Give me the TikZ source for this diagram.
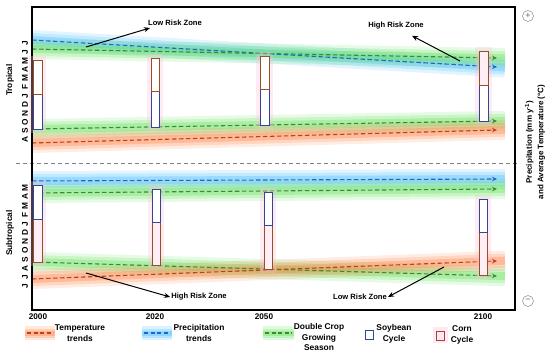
\documentclass[tikz,border=0pt]{standalone}
\usepackage{fontspec}
\setmainfont{Liberation Sans}
\usetikzlibrary{arrows.meta,calc}
\definecolor{tblue}{RGB}{40,100,200}
\definecolor{tgreen}{RGB}{65,135,55}
\definecolor{tred}{RGB}{190,65,30}
\definecolor{gblue}{RGB}{60,185,255}
\definecolor{ggreen}{RGB}{90,225,80}
\definecolor{gred}{RGB}{255,125,60}
\definecolor{cornc}{RGB}{150,80,40}
\definecolor{soyc}{RGB}{50,70,150}
\definecolor{boxfill}{RGB}{255,238,246}
\definecolor{halo}{RGB}{255,190,220}
\newcommand\myglow[3]{\foreach \w/\o in {20/0.15,14/0.2,8/0.3}{\draw[#1,opacity=\o,line width=\w pt,shorten >=-8pt] (#2) -- (#3);}}
\newcommand\myglowlg[3]{\foreach \w/\o in {14/0.18,9/0.24,5/0.32}{\draw[#1,opacity=\o,line width=\w pt,shorten >=-2pt,shorten <=-2pt] (#2) -- (#3);}}
\begin{document}
\begin{tikzpicture}[x=1pt,y=-1pt,
  trend/.style={line width=1.1pt,dash pattern=on 4.5pt off 2.5pt,-{Stealth[length=5pt,width=4.5pt]}},
  lgtrend/.style={line width=1.1pt,dash pattern=on 4pt off 2.5pt},
  riskarrow/.style={line width=1pt,-{Stealth[length=6pt,width=5pt]}},
  lbl/.style={font=\bfseries\fontsize{7.6}{9}\selectfont,inner sep=1pt},
  yr/.style={font=\bfseries\fontsize{8.2}{9}\selectfont,inner sep=1pt},
  leg/.style={font=\bfseries\fontsize{8.4}{10.5}\selectfont,align=center,inner sep=0pt},
  mon/.style={font=\bfseries\fontsize{8.3}{9}\selectfont,rotate=90,inner sep=0pt},
  side/.style={font=\bfseries\fontsize{8.3}{9}\selectfont,rotate=90,inner sep=0pt},
  cornbox/.style={draw=cornc,line width=0.9pt,fill=boxfill},
  soybox/.style={draw=soyc,line width=0.9pt,fill=white},
  sign/.style={circle,draw=gray!80,line width=0.6pt,minimum size=11pt,inner sep=0pt,text=gray!80!black,font=\fontsize{9}{9}\selectfont}]
\useasboundingbox (0,0) rectangle (550,356);
% trend coordinates
\coordinate (tb1) at (32,40);  \coordinate (tb2) at (497,67);
\coordinate (tg1) at (32,49);  \coordinate (tg2) at (497,58);
\coordinate (tg3) at (32,129); \coordinate (tg4) at (497,121);
\coordinate (tr1) at (32,143); \coordinate (tr2) at (497,130);
\coordinate (sb1) at (32,181); \coordinate (sb2) at (497,179);
\coordinate (sg1) at (32,193); \coordinate (sg2) at (497,189);
\coordinate (sg3) at (32,262); \coordinate (sg4) at (497,276);
\coordinate (sr1) at (32,279); \coordinate (sr2) at (497,261);
% glows
\myglow{gblue}{tb1}{tb2}
\myglow{ggreen}{tg1}{tg2}
\myglow{ggreen}{tg3}{tg4}
\myglow{gred}{tr1}{tr2}
\myglow{gblue}{sb1}{sb2}
\myglow{ggreen}{sg1}{sg2}
\myglow{ggreen}{sg3}{sg4}
\myglow{gred}{sr1}{sr2}
% trend lines
\draw[trend,tblue] (tb1) -- (tb2);
\draw[trend,tgreen] (tg1) -- (tg2);
\draw[trend,tgreen] (tg3) -- (tg4);
\draw[trend,tred] (tr1) -- (tr2);
\draw[trend,tblue] (sb1) -- (sb2);
\draw[trend,tgreen] (sg1) -- (sg2);
\draw[trend,tgreen] (sg3) -- (sg4);
\draw[trend,tred] (sr1) -- (sr2);
% divider
\coordinate (d1) at (16,163); \coordinate (d2) at (520,163);
\draw[gray,line width=0.9pt,dash pattern=on 4pt off 3pt] (d1) -- (d2);
% frame
\draw[line width=1.2pt] (32,7) rectangle (515,310);
% halos
\foreach \xa/\ya/\xb/\yb in {33/60/42/129,151/58/159/127,260/56/269/125,479/51/488/121,33/185/42/262,152/189/160/265,264/192/272/269,479/199/487/275}{
  \fill[halo,opacity=0.3] (\xa-4,\ya-4) rectangle (\xb+4,\yb+4);}
% tropical boxes: corn on top, soybean below
\draw[soybox] (33,94) rectangle (42,129);   \draw[cornbox,fill=white] (33,60) rectangle (42,94);
\draw[soybox] (151,91) rectangle (159,127); \draw[cornbox,fill=white] (151,58) rectangle (159,91);
\draw[soybox] (260,89) rectangle (269,125); \draw[cornbox,fill=white] (260,56) rectangle (269,89);
\draw[soybox] (479,85) rectangle (488,121); \draw[cornbox] (479,51) rectangle (488,85);
% subtropical boxes: soybean on top, corn below
\draw[cornbox] (33,219) rectangle (42,262);  \draw[soybox] (33,185) rectangle (42,219);
\draw[cornbox] (152,222) rectangle (160,265); \draw[soybox] (152,189) rectangle (160,222);
\draw[cornbox] (264,225) rectangle (272,269); \draw[soybox] (264,192) rectangle (272,225);
\draw[cornbox] (479,232) rectangle (487,275); \draw[soybox] (479,199) rectangle (487,232);
% risk zones
\node[lbl] (lowtop) at (175,23) {Low Risk Zone};
\node[lbl] (hightop) at (396,26) {High Risk Zone};
\node[lbl] (highbot) at (199,297) {High Risk Zone};
\node[lbl] (lowbot) at (360,297) {Low Risk Zone};
\coordinate (ra1) at (86,47);
\coordinate (ra2) at (460,61);
\coordinate (ra3) at (86,273);
\coordinate (ra4) at (444,267);
\draw[riskarrow] (ra1) -- ([shift={(3,1)}]lowtop.south west);
\draw[riskarrow] (ra2) -- ([shift={(16,5)}]hightop.south);
\draw[riskarrow] (ra3) -- (highbot.west);
\draw[riskarrow] (ra4) -- (lowbot.east);
% left labels
\node[side] (trop) at (10,80) {Tropical};
\node[side] (subt) at (10,233) {Subtropical};
\foreach \l [count=\i from 0] in {A,S,O,N,D,J,F,M,A,M,J,J}
  \node[mon] (tm\i) at (25,{140-\i*8.82}) {\l};
\foreach \l [count=\i from 0] in {J,J,A,S,O,N,D,J,F,M,A,M}
  \node[mon] (sm\i) at (25,{286-\i*8.9}) {\l};
% right axis
\node[sign] (plus) at (528,16) {+};
\node[sign] (minus) at (528,301) {\raisebox{0.5pt}{−}};
\node[side,align=center,font=\bfseries\fontsize{8}{11.5}\selectfont] (axis) at (535,142) {Precipitation (mm y\textsuperscript{-1})\\and Average Temperature (°C)};
% years
\node[yr] (y2000) at (38,317) {2000};
\node[yr] (y2020) at (155,317) {2020};
\node[yr] (y2050) at (264,317) {2050};
\node[yr] (y2100) at (483,317) {2100};
% legend
\coordinate (lt1) at (27,333); \coordinate (lt2) at (53,333);
\coordinate (lp1) at (144,333); \coordinate (lp2) at (170,333);
\coordinate (lg1) at (265,333); \coordinate (lg2) at (292,333);
\myglowlg{gred}{lt1}{lt2}
\myglowlg{gblue}{lp1}{lp2}
\myglowlg{ggreen}{lg1}{lg2}
\draw[lgtrend,tred] (lt1) -- (lt2);
\draw[lgtrend,tblue] (lp1) -- (lp2);
\draw[lgtrend,tgreen] (lg1) -- (lg2);
\node[leg] (legT) at (80,333) {Temperature\\trends};
\node[leg] (legP) at (199,333) {Precipitation\\trends};
\node[leg] (legD) at (319,337) {Double Crop\\Growing\\Season};
\draw[soyc,line width=1pt] (365,330) rectangle (373,339);
\node[leg] (legS) at (394,334) {Soybean\\Cycle};
\fill[halo,opacity=0.35] (433,327) rectangle (448,343);
\draw[cornc,line width=1pt] (436,331) rectangle (444,340);
\node[leg] (legC) at (462,335) {Corn\\Cycle};
\end{tikzpicture}
\end{document}
